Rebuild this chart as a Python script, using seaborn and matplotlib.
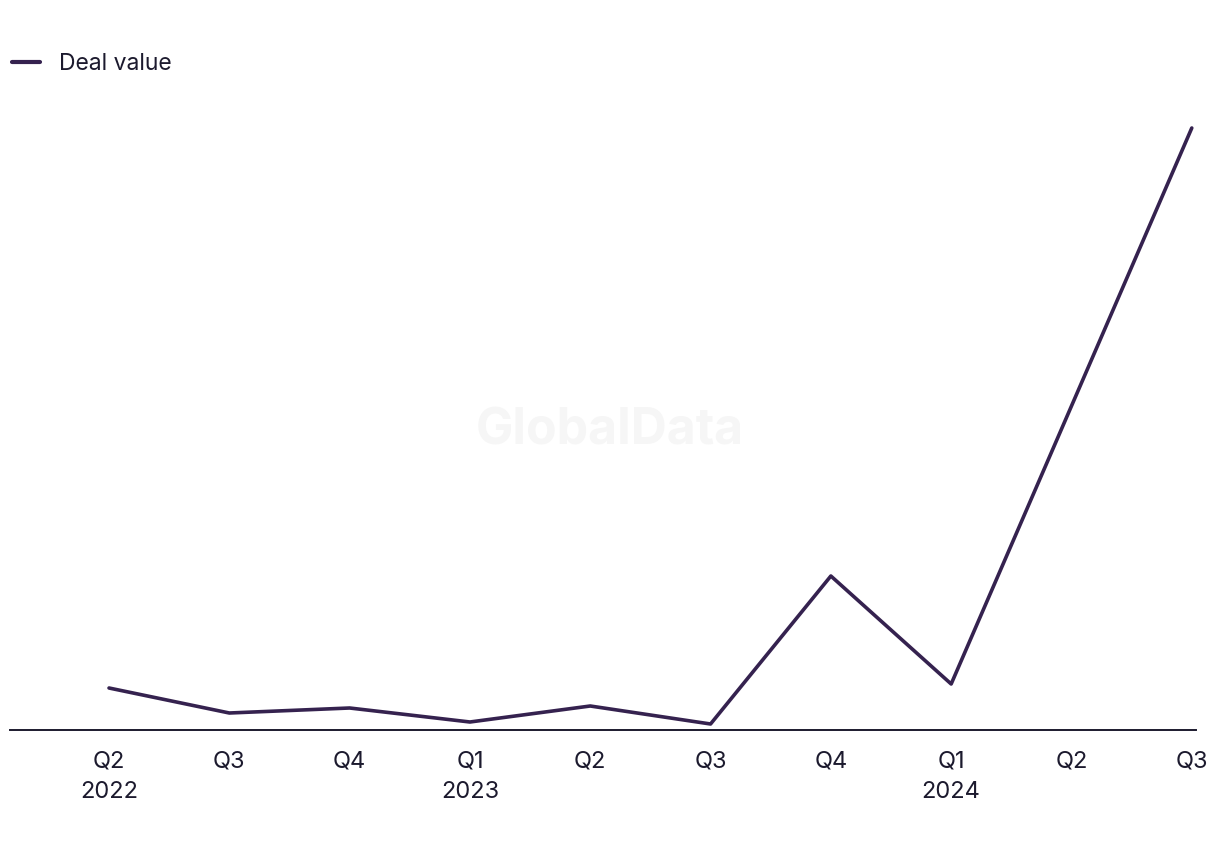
import matplotlib
matplotlib.use("Agg")
import matplotlib.pyplot as plt
import seaborn as sns
import pandas as pd
import numpy as np
from matplotlib.lines import Line2D

quarters = ["Q2\n2022", "Q3", "Q4", "Q1\n2023", "Q2", "Q3", "Q4", "Q1\n2024", "Q2", "Q3"]
deal_value = [42, 17, 22, 8, 24, 6, 154, 46, 324, 602]

sns.set_theme(style="white")
plt.rcParams['font.family'] = ['Inter', 'DejaVu Sans']

df = pd.DataFrame({"pos": np.arange(len(quarters)), "value": deal_value})

fig = plt.figure(figsize=(12.2, 8.5), dpi=100)
ax = fig.add_axes([10/1220, 1 - 730/850, (1196 - 10)/1220, 630/850])

line_color = "#35224f"
text_color = "#1c1a2e"

sns.lineplot(data=df, x="pos", y="value", ax=ax, color=line_color, linewidth=2.6,
             label="Deal value", legend=False)

ax.set_xlim(-0.823, 9.035)
ax.set_ylim(0, 630)
ax.set_xticks(df["pos"])
ax.set_xticklabels(quarters, fontsize=17, color=text_color, linespacing=1.5)
ax.tick_params(axis="x", length=0, pad=15)
ax.set_yticks([])
ax.set_xlabel("")
ax.set_ylabel("")
for s in ["top", "left", "right"]:
    ax.spines[s].set_visible(False)
ax.spines["bottom"].set_color(text_color)
ax.spines["bottom"].set_linewidth(1.4)

# Watermark
fig.text(610/1220, 1 - 431/850, "GlobalData", fontsize=36, fontweight="bold",
         color="#f6f6f6", ha="center", va="center", zorder=0)

# Legend
handle = Line2D([0], [0], color=line_color, linewidth=3, solid_capstyle="round")
fig.legend([handle], ["Deal value"], loc="center left",
           bbox_to_anchor=(3 / 1220, 1 - 64 / 850), frameon=False,
           fontsize=16.5, labelcolor=text_color, handlelength=1.2, handletextpad=0.83,
           borderaxespad=0, borderpad=0.4)

fig.savefig("out.png", dpi=100, facecolor="white")
